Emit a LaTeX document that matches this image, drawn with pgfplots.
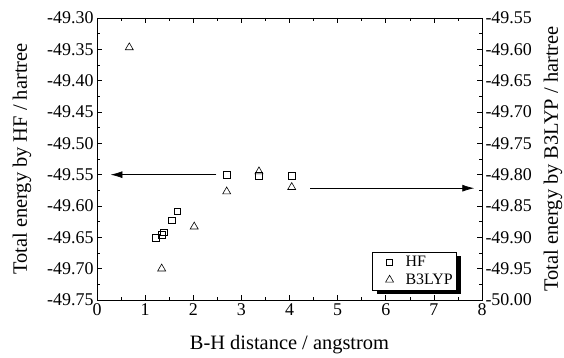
\documentclass[border=0pt]{standalone}
\usepackage{pgfplots}
\pgfplotsset{compat=1.18}
\usepackage{fontspec}
\setmainfont{Liberation Serif}
\usetikzlibrary{arrows.meta,shadows}

\begin{document}
\begin{tikzpicture}
\useasboundingbox (0,0) rectangle (564bp,358bp);
\pgfplotsset{
  mylegimg/.style={legend image code/.code={\pgfpathmoveto{\pgfqpoint{-14bp}{0bp}}\pgfpathmoveto{\pgfqpoint{9bp}{0bp}}\pgfusepath{discard}\draw[##1] plot coordinates {(0bp,0bp)};}},
  every axis/.append style={
    scale only axis, width=385bp, height=282bp,
    at={(97bp,58bp)}, anchor=south west,
    xmin=0, xmax=8,
    tick label style={font=\fontsize{18}{20}\selectfont},
    label style={font=\fontsize{20.5}{22}\selectfont},
    /pgf/number format/assume math mode=true,
    major tick length=5bp, minor tick length=3bp,
    every tick/.style={black, line width=0.6pt},
    axis line style={line width=0.7pt},
    yticklabel={\pgfmathprintnumber[fixed,fixed zerofill,precision=2]{\tick}},
    xticklabel={\pgfmathprintnumber{\tick}},
    minor y tick num=1,
  }
}
\begin{axis}[
  ymin=-49.75, ymax=-49.30,
  ytick={-49.75,-49.70,-49.65,-49.60,-49.55,-49.50,-49.45,-49.40,-49.35,-49.30},
  ytick pos=left,
  xtick={0,1,2,3,4,5,6,7,8},
  minor x tick num=1,
  xtick pos=both,
  xticklabel pos=bottom,
  xlabel={B-H distance / angstrom},
  ylabel={Total energy by HF / hartree},
  xlabel shift=13bp,
  ylabel shift=9bp,
]
\addplot[only marks, mark=square, mark size=3.2bp, mark options={line width=0.6pt}] coordinates {
(1.22,-49.651) (1.344,-49.646) (1.392,-49.642) (1.552,-49.623) (1.668,-49.608)
(2.695,-49.550) (3.366,-49.552) (4.046,-49.552)
};
\addplot[line width=0.8pt, -{Latex[length=12bp,width=7bp]}] coordinates {(2.48,-49.550) (0.28,-49.550)};
\addplot[line width=0.8pt, -{Latex[length=12bp,width=7bp]}] coordinates {(4.43,-49.5716) (7.84,-49.5716)};
\end{axis}
\begin{axis}[
  ymin=-50.00, ymax=-49.55,
  ytick={-50.00,-49.95,-49.90,-49.85,-49.80,-49.75,-49.70,-49.65,-49.60,-49.55},
  axis y line*=right,
  axis x line=none,
  ylabel={Total energy by B3LYP / hartree},
  ylabel shift=5bp,
  legend cell align=left,
  legend style={at={(0.935,0.035)}, anchor=south east, draw=black, line width=0.6pt,
    fill=white, font=\fontsize{16}{17}\selectfont, row sep=0pt,
    inner xsep=3pt, inner ysep=1pt,
    nodes={inner xsep=1pt, inner ysep=3pt},
    /tikz/every odd column/.append style={column sep=6pt},
    drop shadow={shadow xshift=4bp, shadow yshift=-4bp, fill=black, opacity=1}},
]
\addlegendimage{only marks, mark=square, mark size=3bp, mark options={line width=0.6pt}, mylegimg}
\addlegendentry{HF}
\addplot[only marks, mark=triangle, mark size=4.6bp, mark options={line width=0.6pt}, mylegimg] coordinates {
(0.671,-49.597) (1.344,-49.950) (2.02,-49.883) (2.695,-49.827) (3.366,-49.795) (4.046,-49.820)
};
\addlegendentry{B3LYP}
\end{axis}
\end{tikzpicture}
\end{document}
